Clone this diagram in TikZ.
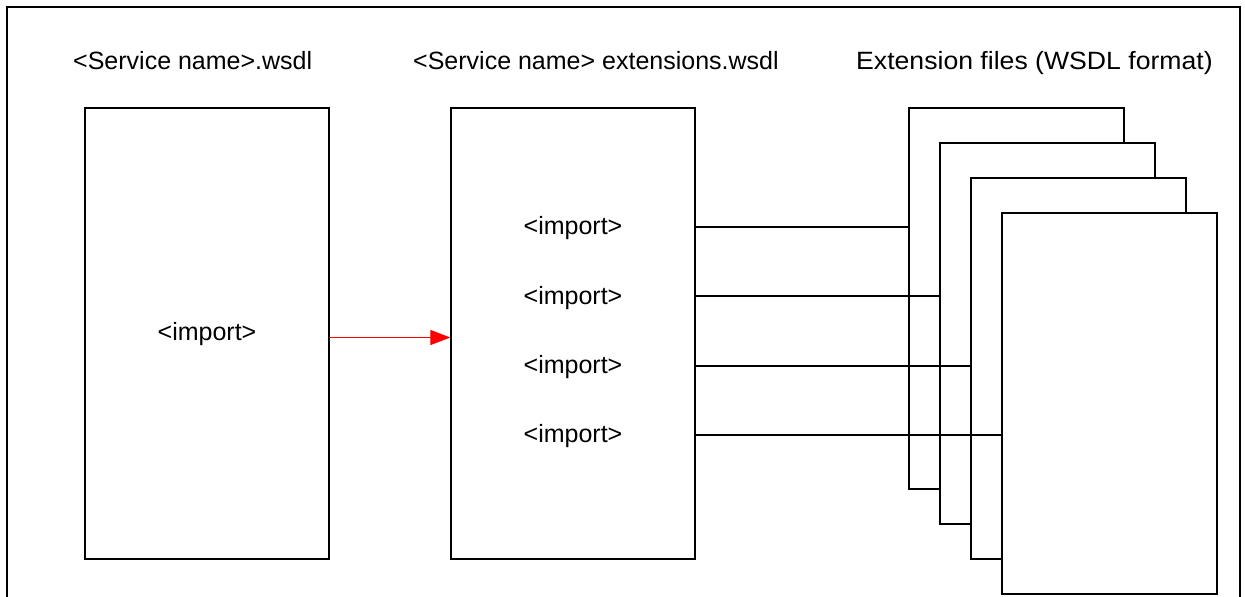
\documentclass[tikz,border=0pt]{standalone}
\usepackage{fontspec}
\setmainfont{Liberation Sans}
\newfontfamily\widesans[FakeStretch=1.065]{Liberation Sans}
\usetikzlibrary{arrows.meta}
\begin{document}
\begin{tikzpicture}[x=1bp,y=-1bp,
  lbl/.style={font=\fontsize{25bp}{30bp}\selectfont, inner sep=0pt},
  filebox/.style={draw=black, line width=1.3bp, fill=white, inner sep=0pt},
  link/.style={draw=black, line width=1.1bp},
  redarrow/.style={draw=red, line width=1.1bp, -{Triangle[length=20bp,width=15bp]}},
  frameline/.style={draw=black, line width=2.4bp}]
\useasboundingbox (0,0) rectangle (1245,597);
% outer frame (no bottom edge)
\coordinate (fbl) at (7,600);
\coordinate (ftl) at (7,7);
\coordinate (ftr) at (1240,7);
\coordinate (fbr) at (1240,600);
\draw[frameline] (fbl) -- (ftl) -- (ftr) -- (fbr);
% titles
\node[lbl, anchor=base west] (t1) at (73,70) {<Service name>.wsdl};
\node[lbl, anchor=base west] (t2) at (413,70) {<Service name> extensions.wsdl};
\node[lbl, anchor=base west, font=\widesans\fontsize{25bp}{30bp}\selectfont] (t3) at (856,70) {Extension files (WSDL format)};
% main boxes
\node[filebox, minimum width=244bp, minimum height=451bp] (left) at (207,333.5) {};
\node[filebox, minimum width=244bp, minimum height=451bp] (mid) at (573,333.5) {};
\node[lbl] (limp) at (207,334) {<import>};
\node[lbl] (imp1) at (573,228) {<import>};
\node[lbl] (imp2) at (573,298) {<import>};
\node[lbl] (imp3) at (573,367) {<import>};
\node[lbl] (imp4) at (573,436) {<import>};
% stacked extension files
\node[filebox, minimum width=215bp, minimum height=381bp] (p1) at (1016.5,298.5) {};
\node[filebox, minimum width=215bp, minimum height=381bp] (p2) at (1047.5,333.5) {};
\node[filebox, minimum width=215bp, minimum height=381bp] (p3) at (1078.5,368.5) {};
\node[filebox, minimum width=215bp, minimum height=381bp] (p4) at (1109.5,403.5) {};
% connectors
\coordinate (a1) at (695.5,227);
\coordinate (a2) at (695.5,296);
\coordinate (a3) at (695.5,366);
\coordinate (a4) at (695.5,435);
\draw[link] (a1) -- (a1 -| p1.west);
\draw[link] (a2) -- (a2 -| p2.west);
\draw[link] (a3) -- (a3 -| p3.west);
\draw[link] (a4) -- (a4 -| p4.west);
\coordinate (r1) at (329,337.5);
\draw[redarrow] (r1) -- (r1 -| mid.west);
\end{tikzpicture}
\end{document}
